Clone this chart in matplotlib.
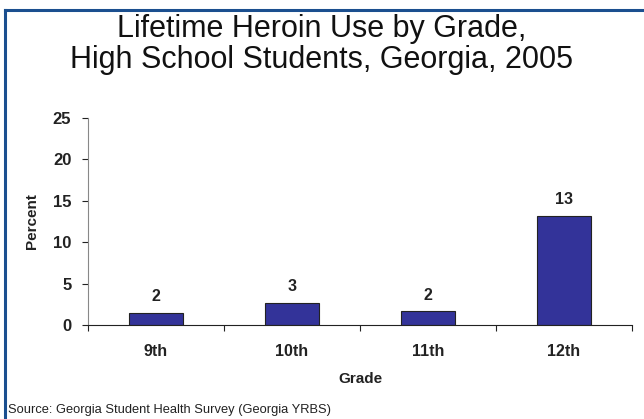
import matplotlib
matplotlib.use("Agg")
import matplotlib.pyplot as plt
from matplotlib.lines import Line2D

plt.rcParams["font.family"] = ["Liberation Sans", "DejaVu Sans"]

grades = ["9th", "10th", "11th", "12th"]
percent = [1.5, 2.7, 1.7, 13.2]
labels = ["2", "3", "2", "13"]
yticks = [0, 5, 10, 15, 20, 25]
title_lines = ["Lifetime Heroin Use by Grade,", "High School Students, Georgia, 2005"]

BAR_COLOR = "#333399"
FRAME_COLOR = "#1b4f8f"
TEXT = "#222222"

fig = plt.figure(figsize=(6.44, 4.19), dpi=100)
ax = fig.add_axes([88 / 644, 1 - 325 / 419, 544 / 644, 207 / 419])

x = range(len(grades))
bars = ax.bar(x, percent, width=0.4, color=BAR_COLOR, edgecolor=TEXT, linewidth=0.8)
for b, lab in zip(bars, labels):
    ax.text(b.get_x() + b.get_width() / 2, b.get_height() + 1.0, lab,
            ha="center", va="bottom", fontsize=11.5, fontweight="bold", color=TEXT)

ax.set_xlim(-0.5, len(grades) - 0.5)
ax.set_ylim(0, 25)
ax.set_yticks(yticks)
ax.set_yticklabels([str(t) for t in yticks], fontsize=12, fontweight="bold", color=TEXT)
ax.set_xticks([i - 0.5 for i in range(len(grades) + 1)])
ax.set_xticklabels([])
ax.set_xticks(list(x), minor=True)
ax.set_xticklabels(grades, minor=True, fontsize=11.5, fontweight="bold", color=TEXT)
ax.tick_params(axis="x", which="minor", length=0, pad=14)
ax.tick_params(axis="x", which="major", length=4, color=TEXT)
ax.tick_params(axis="y", length=4, color=TEXT, pad=8)

ax.spines[["top", "right"]].set_visible(False)
ax.spines["left"].set_color("#888888")
ax.spines["bottom"].set_color(TEXT)

ax.set_ylabel("Percent", fontsize=11, fontweight="bold", labelpad=10, color=TEXT)
ax.set_xlabel("Grade", fontsize=11, fontweight="bold", labelpad=9, color=TEXT)

for i, line in enumerate(title_lines):
    fig.text(322 / 644, 1 - (29 + 31 * i) / 419, line,
             ha="center", va="center", fontsize=22, color="#111111")
fig.text(8 / 644, 1 - 410 / 419, "Source: Georgia Student Health Survey (Georgia YRBS)",
         ha="left", va="center", fontsize=9.3, color=TEXT)

# frame: top and left edges only
fig.add_artist(Line2D([5 / 644, 1], [1 - 10 / 419] * 2, transform=fig.transFigure,
                      color=FRAME_COLOR, lw=2.2))
fig.add_artist(Line2D([5 / 644] * 2, [0, 1 - 10 / 419], transform=fig.transFigure,
                      color=FRAME_COLOR, lw=2.2))

fig.savefig("out.png", dpi=100)
